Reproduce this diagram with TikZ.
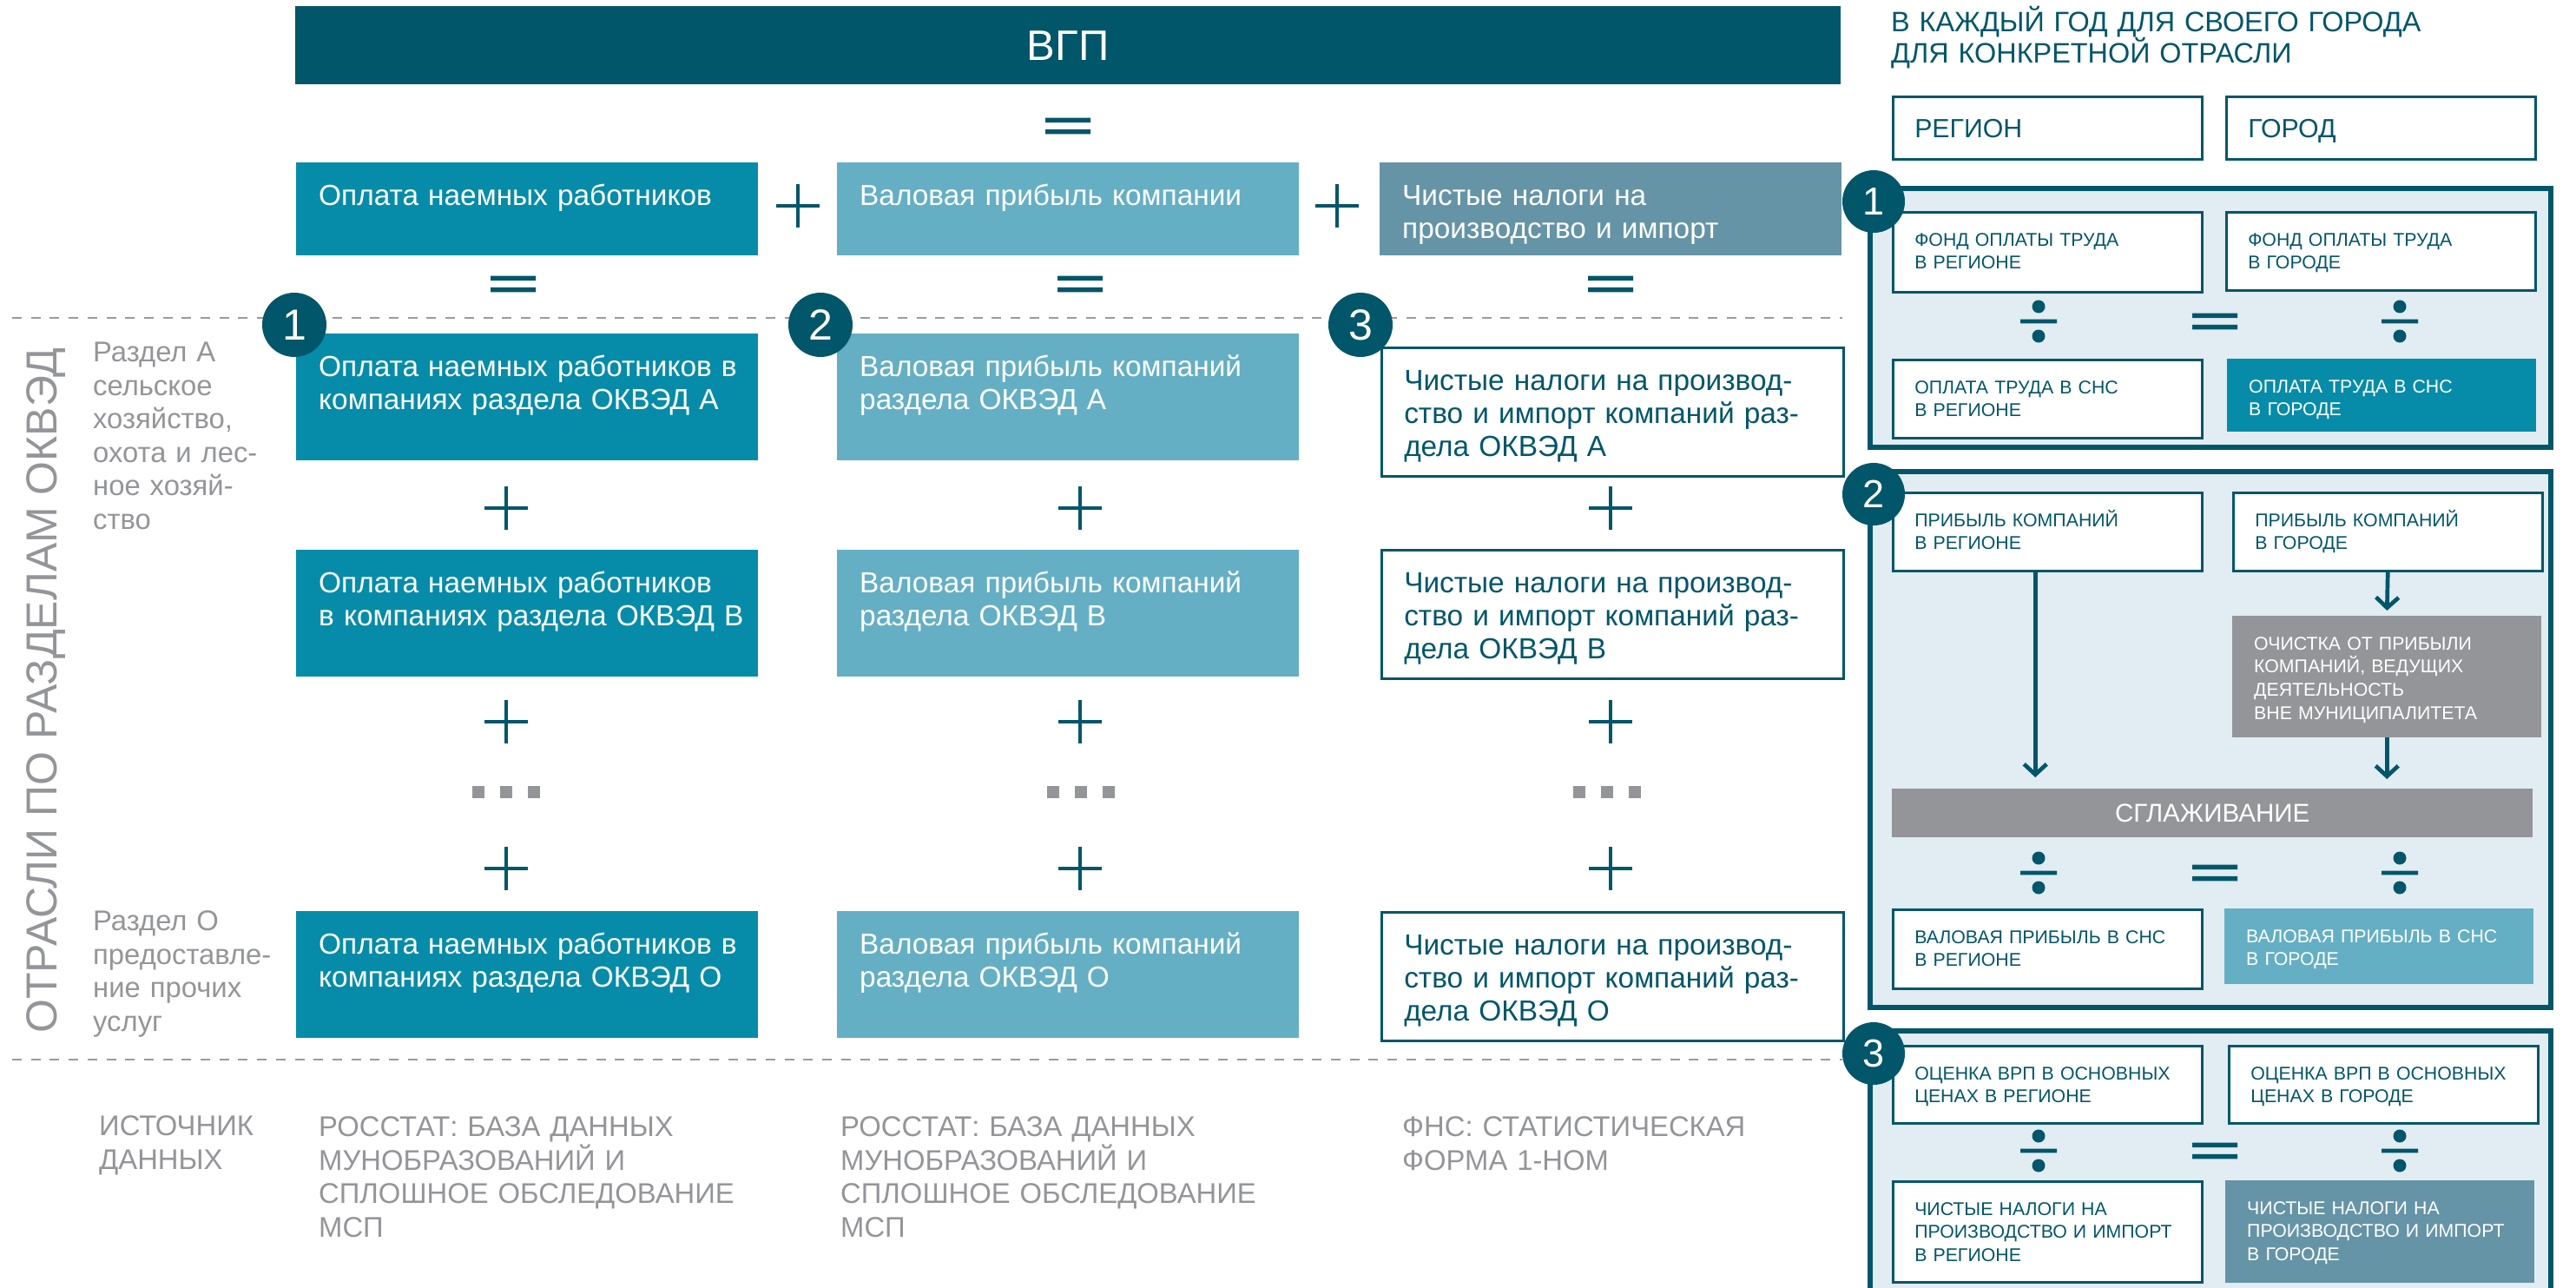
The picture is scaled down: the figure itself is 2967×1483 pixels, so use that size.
\documentclass[tikz,border=0pt]{standalone}
\usepackage{fontspec}
\setmainfont{Liberation Sans}
\usepackage{tikz}
\usetikzlibrary{arrows.meta, positioning, calc}
\definecolor{gdpdark}{HTML}{02566A}
\definecolor{paycyan}{HTML}{068CA9}
\definecolor{profitblue}{HTML}{64AFC4}
\definecolor{taxslate}{HTML}{6594A6}
\definecolor{mistgray}{HTML}{949599}
\definecolor{panelmist}{HTML}{E1ECF3}
\definecolor{sepgray}{HTML}{9B9B9F}

\tikzset{
  cell/.style={anchor=north west, inner ysep=0pt, align=left},
  mainbox/.style={cell, inner xsep=26pt, text width=480pt, text height=49pt, text=white,
    font=\fontsize{33.4}{38.3}\selectfont},
  toprow/.style={text depth=58pt},
  gridrow/.style={text depth=97pt},
  taxbox/.style={mainbox, fill=white, draw=gdpdark, line width=2.5pt, text=gdpdark, text depth=99pt},
  panelbox/.style={cell, inner xsep=25pt, text width=306pt, text height=39pt,
    font=\fontsize{21.3}{26.7}\selectfont},
  outlined/.style={fill=white, draw=gdpdark, line width=2.5pt, text=gdpdark},
  tinted/.style={fill=#1, text=white},
  note/.style={cell, inner xsep=0pt, text height=11.7pt, text=mistgray,
    font=\fontsize{32.8}{38.5}\selectfont},
  badge/.style={circle, fill=gdpdark, text=white, inner sep=0pt, minimum size=74pt,
    font=\fontsize{50}{50}\selectfont},
  sepline/.style={sepgray, line width=2.7pt, dash pattern=on 11pt off 10.7pt},
  panelframe/.style={fill=panelmist, draw=gdpdark, line width=6.5pt},
  flowarrow/.style={gdpdark, line width=4.7pt, -{Straight Barb[length=12pt, width=26pt]}},
  plussign/.pic={\draw[gdpdark, line width=4.6pt] (-25,0) -- (25,0) (0,-25) -- (0,25);},
  eqsign/.pic={\fill[gdpdark] (-26,-9.3) rectangle (26,-3.9) (-26,3.9) rectangle (26,9.3);},
  divsign/.pic={\fill[gdpdark] (-21,-2.4) rectangle (21,2.4) (0,-17) circle (7.5pt) (0,17) circle (7.5pt);},
  gapdots/.pic={\foreach \dx in {-32,0,32} \fill[mistgray] (\dx-7,-7) rectangle (\dx+7,7);}
}

\begin{document}
\begin{tikzpicture}[x=1pt, y=-1pt]
  \useasboundingbox (0,0) rectangle (2967,1483);

  % Section rules
  \draw[sepline] (14,366) -- (2122,366);
  \draw[sepline] (14,1220) -- (2122,1220);

  % Header bar
  \node[cell, inner sep=0pt, align=center, minimum width=1780pt, minimum height=90pt,
    fill=gdpdark, text=white, font=\fontsize{49}{49}\selectfont] (vgp) at (340,7) {ВГП};
  \pic at (1230,145) {eqsign};

  % Components of GDP
  \node[mainbox, toprow, tinted=paycyan] (pay) at (341,187) {Оплата наемных работников};
  \pic at (919,237) {plussign};
  \node[mainbox, toprow, tinted=profitblue] (profit) at (964,187) {Валовая прибыль компании};
  \pic at (1540,237) {plussign};
  \node[mainbox, toprow, tinted=taxslate] (tax) at (1589,187) {Чистые налоги на\\производство и импорт};
  \foreach \x in {591,1244,1855} \pic at (\x,327) {eqsign};

  % Breakdown by OKVED section
  \node[mainbox, gridrow, tinted=paycyan] (payA) at (341,384) {Оплата~наемных~работников~в\\компаниях~раздела~ОКВЭД~А};
  \node[mainbox, gridrow, tinted=paycyan] (payB) at (341,633) {Оплата~наемных~работников\\в~компаниях~раздела~ОКВЭД~В};
  \node[mainbox, gridrow, tinted=paycyan] (payO) at (341,1049) {Оплата~наемных~работников~в\\компаниях~раздела~ОКВЭД~О};
  \node[mainbox, gridrow, tinted=profitblue] (profitA) at (964,384) {Валовая прибыль компаний\\раздела ОКВЭД А};
  \node[mainbox, gridrow, tinted=profitblue] (profitB) at (964,633) {Валовая прибыль компаний\\раздела ОКВЭД В};
  \node[mainbox, gridrow, tinted=profitblue] (profitO) at (964,1049) {Валовая прибыль компаний\\раздела ОКВЭД О};
  \node[taxbox] (taxA) at (1590,399) {Чистые~налоги~на~производ-\\ство~и~импорт~компаний~раз-\\дела ОКВЭД А};
  \node[taxbox] (taxB) at (1590,632) {Чистые~налоги~на~производ-\\ство~и~импорт~компаний~раз-\\дела ОКВЭД В};
  \node[taxbox] (taxO) at (1590,1049) {Чистые~налоги~на~производ-\\ство~и~импорт~компаний~раз-\\дела ОКВЭД О};
  \foreach \x in {583,1244,1855} {
    \pic at (\x,585) {plussign};
    \pic at (\x,831) {plussign};
    \pic at (\x,1000) {plussign};
  }
  \foreach \x in {583,1245,1851} \pic at (\x,912) {gapdots};

  % Step badges
  \node[badge] (n1) at (339,374) {1};
  \node[badge] (n2) at (945,374) {2};
  \node[badge] (n3) at (1567,374) {3};

  % Side labels
  \node[rotate=90, inner sep=0pt, text height=36pt, text depth=0pt, text=mistgray,
    font=\fontsize{50}{50}\selectfont] (sectors) at (47,795) {ОТРАСЛИ ПО РАЗДЕЛАМ ОКВЭД};
  \node[note, text width=230pt] (secA) at (107,405) {Раздел А\\сельское\\хозяйство,\\охота и лес-\\ное хозяй-\\ство};
  \node[note, text width=230pt] (secO) at (107,1060) {Раздел О\\предоставле-\\ние прочих\\услуг};

  % Data sources
  \node[note, text width=220pt] (srclabel) at (114,1296) {ИСТОЧНИК\\ДАННЫХ};
  \node[note, text width=520pt] (srcpay) at (367,1297) {РОССТАТ: БАЗА ДАННЫХ\\МУНОБРАЗОВАНИЙ И\\СПЛОШНОЕ ОБСЛЕДОВАНИЕ\\МСП};
  \node[note, text width=520pt] (srcprofit) at (968,1297) {РОССТАТ: БАЗА ДАННЫХ\\МУНОБРАЗОВАНИЙ И\\СПЛОШНОЕ ОБСЛЕДОВАНИЕ\\МСП};
  \node[note, text width=480pt] (srctax) at (1615,1297) {ФНС: СТАТИСТИЧЕСКАЯ\\ФОРМА 1-НОМ};

  % City panel header
  \node[cell, inner xsep=0pt, text width=760pt, text height=11.5pt, text=gdpdark,
    font=\fontsize{32.4}{36}\selectfont] (yearnote) at (2178,25) {В КАЖДЫЙ ГОД ДЛЯ СВОЕГО ГОРОДА\\ДЛЯ КОНКРЕТНОЙ ОТРАСЛИ};
  \node[panelbox, outlined, text height=47pt, text depth=25pt,
    font=\fontsize{30.3}{32}\selectfont] (regionhead) at (2179,110) {РЕГИОН};
  \node[panelbox, outlined, text height=47pt, text depth=25pt,
    font=\fontsize{30.3}{32}\selectfont] (cityhead) at (2563,110) {ГОРОД};

  % Panel frames
  \draw[panelframe] (2154,217) rectangle (2938,515);
  \draw[panelframe] (2154,543) rectangle (2938,1160);
  \draw[panelframe] (2154,1187) rectangle (2938,1500);

  % Panel 1: wages
  \node[panelbox, outlined, text depth=53pt] (wagereg) at (2179,243) {ФОНД ОПЛАТЫ ТРУДА\\В РЕГИОНЕ};
  \node[panelbox, outlined, text depth=51pt] (wagecity) at (2563,243) {ФОНД ОПЛАТЫ ТРУДА\\В ГОРОДЕ};
  \node[panelbox, outlined, text depth=51pt] (snawagereg) at (2179,413) {ОПЛАТА ТРУДА В СНС\\В РЕГИОНЕ};
  \node[panelbox, tinted=paycyan, text depth=45pt] (snawagecity) at (2565,413) {ОПЛАТА ТРУДА В СНС\\В ГОРОДЕ};

  % Panel 2: profit
  \node[panelbox, outlined, text depth=51pt] (profreg) at (2179,566) {ПРИБЫЛЬ КОМПАНИЙ\\В РЕГИОНЕ};
  \node[panelbox, outlined, text depth=51pt] (profcity) at (2571,566) {ПРИБЫЛЬ КОМПАНИЙ\\В ГОРОДЕ};
  \node[panelbox, tinted=mistgray, text depth=101pt] (cleanup) at (2571,709) {ОЧИСТКА ОТ ПРИБЫЛИ\\КОМПАНИЙ, ВЕДУЩИХ\\ДЕЯТЕЛЬНОСТЬ\\ВНЕ МУНИЦИПАЛИТЕТА};
  \node[cell, inner sep=0pt, align=center, minimum width=738pt, minimum height=56pt,
    fill=mistgray, text=white, font=\fontsize{29.6}{30}\selectfont] (smooth) at (2179,908) {СГЛАЖИВАНИЕ};
  \node[panelbox, outlined, text depth=52pt] (grossreg) at (2179,1046) {ВАЛОВАЯ ПРИБЫЛЬ В СНС\\В РЕГИОНЕ};
  \node[panelbox, tinted=profitblue, text depth=48pt] (grosscity) at (2562,1046) {ВАЛОВАЯ ПРИБЫЛЬ В СНС\\В ГОРОДЕ};
  \coordinate (regdrop) at ([xshift=-14pt]profreg.south);
  \draw[flowarrow, shorten >=13pt] (regdrop) -- (regdrop |- smooth.north);
  \draw[flowarrow, shorten >=6pt] (profcity.south) -- (cleanup.north);
  \draw[flowarrow, shorten >=11pt] (cleanup.south) -- (cleanup.south |- smooth.north);

  % Panel 3: taxes
  \node[panelbox, outlined, text depth=50pt] (grpreg) at (2179,1203) {ОЦЕНКА ВРП В ОСНОВНЫХ\\ЦЕНАХ В РЕГИОНЕ};
  \node[panelbox, outlined, text depth=50pt] (grpcity) at (2566,1203) {ОЦЕНКА ВРП В ОСНОВНЫХ\\ЦЕНАХ В ГОРОДЕ};
  \node[panelbox, outlined, text depth=77pt] (taxreg) at (2179,1359) {ЧИСТЫЕ НАЛОГИ НА\\ПРОИЗВОДСТВО~И~ИМПОРТ\\В РЕГИОНЕ};
  \node[panelbox, tinted=taxslate, text depth=79pt] (taxcity) at (2563,1359) {ЧИСТЫЕ НАЛОГИ НА\\ПРОИЗВОДСТВО~И~ИМПОРТ\\В ГОРОДЕ};

  % Ratio signs
  \foreach \y in {370,1005,1325} {
    \pic at (2348,\y) {divsign};
    \pic at (2551,\y) {eqsign};
    \pic at (2764,\y) {divsign};
  }

  % Panel badges
  \node[badge, minimum size=72pt, font=\fontsize{45}{45}\selectfont] (p1) at (2158,232) {1};
  \node[badge, minimum size=72pt, font=\fontsize{45}{45}\selectfont] (p2) at (2158,569) {2};
  \node[badge, minimum size=72pt, font=\fontsize{45}{45}\selectfont] (p3) at (2158,1213) {3};
\end{tikzpicture}
\end{document}
